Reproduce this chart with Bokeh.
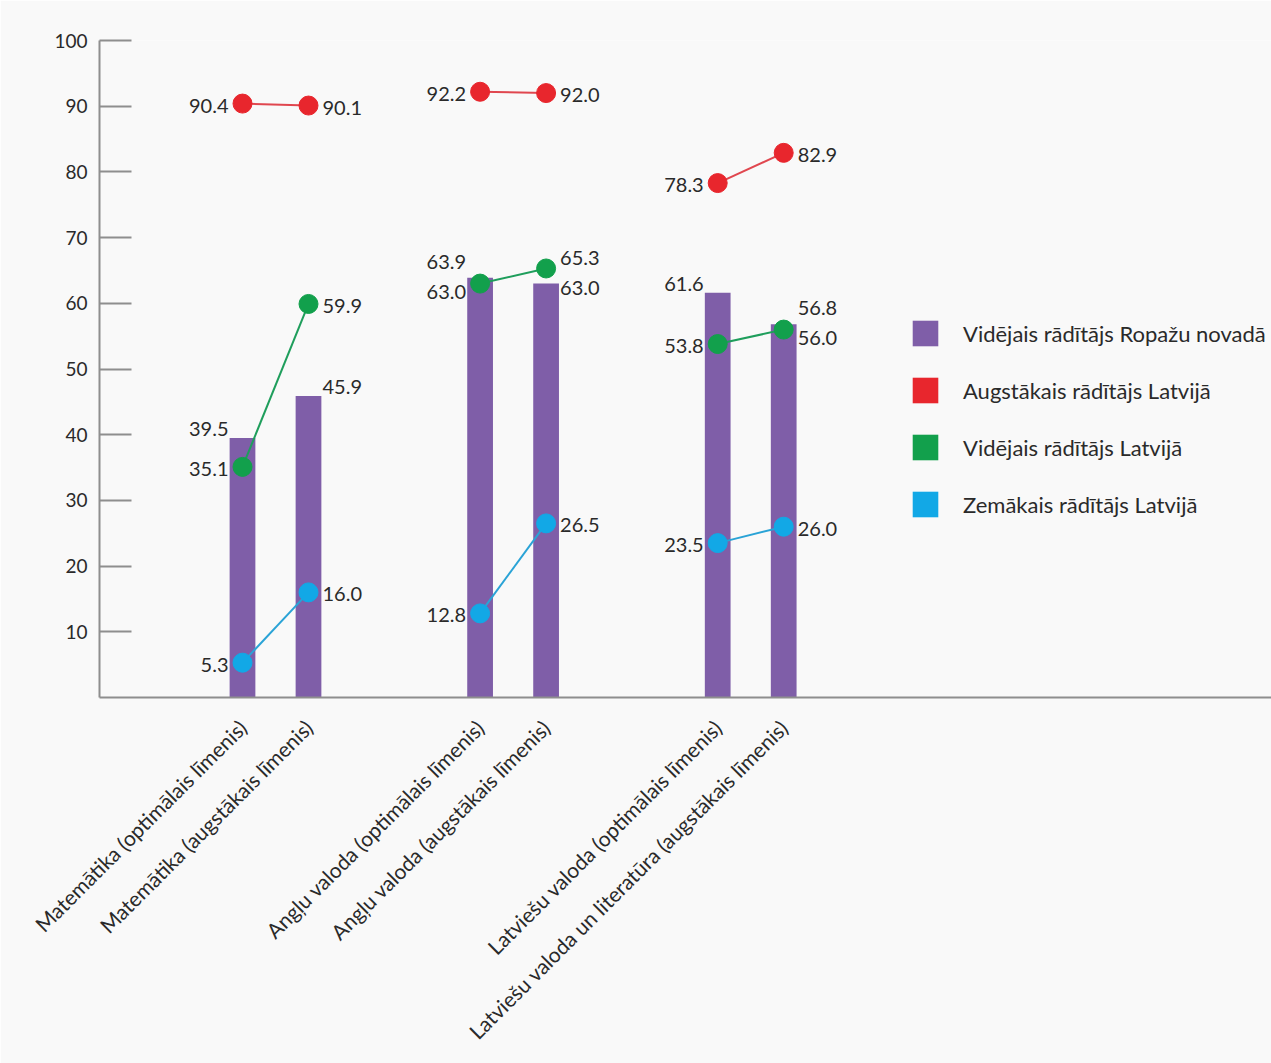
import math
from bokeh.plotting import figure
from bokeh.models import (ColumnDataSource, FixedTicker, Range1d, Legend, LegendItem)
from bokeh.core.properties import value
from bokeh.embed import file_html
from bokeh.resources import INLINE

# ---------------- data ----------------
categories = [
    "Matemātika (optimālais līmenis)",
    "Matemātika (augstākais līmenis)",
    "Angļu valoda (optimālais līmenis)",
    "Angļu valoda (augstākais līmenis)",
    "Latviešu valoda (optimālais līmenis)",
    "Latviešu valoda un literatūra (augstākais līmenis)",
]
group_of = [0, 0, 1, 1, 2, 2]
ropazi = [39.5, 45.9, 63.9, 63.0, 61.6, 56.8]      # Vidējais rādītājs Ropažu novadā
augst = [90.4, 90.1, 92.2, 92.0, 78.3, 82.9]       # Augstākais rādītājs Latvijā
vid = [35.1, 59.9, 63.0, 65.3, 53.8, 56.0]         # Vidējais rādītājs Latvijā
zem = [5.3, 16.0, 12.8, 26.5, 23.5, 26.0]          # Zemākais rādītājs Latvijā
y_ticks = [10, 20, 30, 40, 50, 60, 70, 80, 90, 100]
legend_labels = [
    "Vidējais rādītājs Ropažu novadā",
    "Augstākais rādītājs Latvijā",
    "Vidējais rādītājs Latvijā",
    "Zemākais rādītājs Latvijā",
]

# ---------------- style ----------------
PURPLE = "#7f5ea8"
RED = "#e8262d"
GREEN = "#12a04c"
BLUE = "#12a8e6"
RED_L = "#e0474f"
GREEN_L = "#1f9e5c"
BLUE_L = "#2aa3d6"
AXIS = "#8e8e8e"
TXT = "#2a2a2a"
BG = "#f9f9f9"
FONT = "Lato"

W, H = 1271, 1063
LEFT, TOP, BOTTOM = 99, 40, 366
FRAME_H = H - TOP - BOTTOM
FRAME_W = W - LEFT
WITHIN, GAP = 10, 36
xs = [g * GAP + (i % 2) * WITHIN for i, g in enumerate(group_of)]
px_per_x = 6.6
x_start = -143 / px_per_x
x_end = x_start + FRAME_W / px_per_x

p = figure(width=W, height=H, output_backend="svg", toolbar_location=None,
           x_range=Range1d(x_start, x_end), y_range=Range1d(0, 100),
           min_border_left=LEFT, min_border_top=TOP, min_border_bottom=BOTTOM,
           min_border_right=0)
p.background_fill_color = BG
p.border_fill_color = BG
p.outline_line_color = None
p.xgrid.visible = False
p.ygrid.visible = False

# axes
ya = p.yaxis[0]
ya.ticker = FixedTicker(ticks=y_ticks)
ya.major_tick_in = 32
ya.major_tick_out = 0
ya.minor_tick_line_color = None
ya.axis_line_color = AXIS
ya.axis_line_width = 2
ya.major_tick_line_color = AXIS
ya.major_tick_line_width = 2
ya.major_label_text_font = FONT
ya.major_label_text_font_size = "19px"
ya.major_label_text_color = TXT
ya.major_label_standoff = 12

xa = p.xaxis[0]
xa.ticker = FixedTicker(ticks=xs)
xa.major_label_overrides = {x: c for x, c in zip(xs, categories)}
xa.major_label_orientation = math.pi / 4
xa.major_tick_line_color = None
xa.minor_tick_line_color = None
xa.axis_line_color = AXIS
xa.axis_line_width = 2
xa.major_label_text_font = FONT
xa.major_label_text_font_size = "21px"
xa.major_label_text_color = TXT
xa.major_label_standoff = 20

# bars
src = ColumnDataSource(dict(x=xs, ropazi=ropazi, augst=augst, vid=vid, zem=zem))
bars = p.vbar(x="x", top="ropazi", width=3.9, bottom=0, source=src,
              fill_color=PURPLE, line_color=None)

# lines per group
def seg(vals):
    gx, gy = [], []
    for g in sorted(set(group_of)):
        idx = [i for i, gg in enumerate(group_of) if gg == g]
        gx.append([xs[i] for i in idx])
        gy.append([vals[i] for i in idx])
    return gx, gy

for vals, lc, fc, col in [(augst, RED_L, RED, "augst"), (vid, GREEN_L, GREEN, "vid"),
                          (zem, BLUE_L, BLUE, "zem")]:
    gx, gy = seg(vals)
    p.multi_line(gx, gy, line_color=lc, line_width=2)
    p.scatter(x="x", y=col, source=src, size=19, fill_color=fc, line_color=fc)

# data labels
PX = FRAME_H / 100.0

def add_labels(vals, yoffs):
    for side, align in [(0, "right"), (1, "left")]:
        idx = [i for i in range(len(xs)) if i % 2 == side]
        s = ColumnDataSource(dict(
            x=[xs[i] for i in idx], y=[vals[i] for i in idx],
            t=["%.1f" % vals[i] for i in idx], yo=[yoffs[i] for i in idx]))
        p.text(x="x", y="y", text="t", source=s, x_offset=-14 if side == 0 else 14,
               y_offset="yo", text_align=align, text_baseline="middle",
               text_font=value(FONT), text_font_size="20px", text_color=TXT)

bar_off, vid_off = [], []
for b, g in zip(ropazi, vid):
    lb = b * PX + 9
    lg = g * PX - 2
    if abs(lb - lg) < 30:
        mid = (lb + lg) / 2
        if lb >= lg:
            lb, lg = mid + 15, mid - 15
        else:
            lb, lg = mid - 15, mid + 15
    bar_off.append(-(lb - b * PX))
    vid_off.append(-(lg - g * PX))

add_labels(ropazi, bar_off)
add_labels(vid, vid_off)
add_labels(augst, [2] * len(xs))
add_labels(zem, [2] * len(xs))

# legend (square swatches)
nan = float("nan")
sw = []
for c in [PURPLE, RED, GREEN, BLUE]:
    sw.append(p.vbar(x=[nan], top=[nan], width=1, fill_color=c, line_color=None))
legend = Legend(items=[LegendItem(label=l, renderers=[r]) for l, r in zip(legend_labels, sw)],
                location=(810, 177), glyph_width=32, glyph_height=32, label_height=32,
                spacing=25, padding=0, margin=0, label_standoff=22,
                label_text_font=FONT, label_text_font_size="22px", label_text_color=TXT,
                border_line_color=None, background_fill_alpha=0)
p.add_layout(legend, "center")

open("out.html", "w").write(file_html(p, INLINE))
